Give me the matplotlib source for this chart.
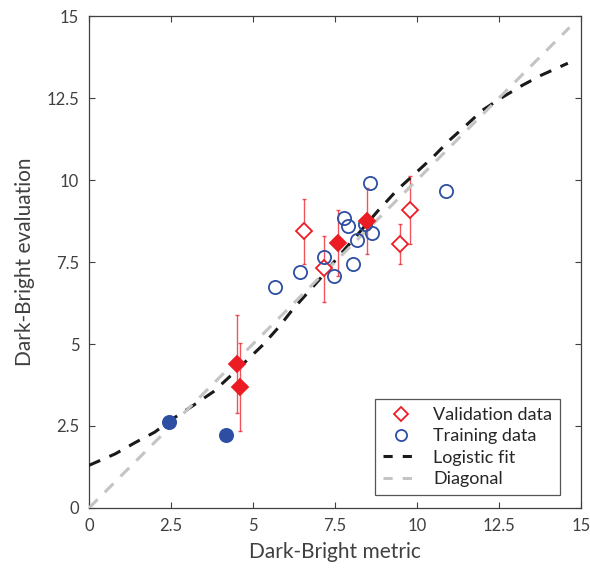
import numpy as np
import matplotlib
matplotlib.use('Agg')
import matplotlib.pyplot as plt
from matplotlib.lines import Line2D

plt.rcParams['font.family'] = ['Lato', 'DejaVu Sans']

# training data (open and filled circles)
train_x = [5.68, 6.42, 7.16, 7.47, 7.78, 7.90, 8.17, 8.04, 8.43, 8.64, 8.56, 10.88]
train_y = [6.73, 7.20, 7.65, 7.07, 8.83, 8.61, 8.17, 7.43, 8.65, 8.39, 9.92, 9.66]
train_fx = [2.43, 4.18]
train_fy = [2.63, 2.23]

# validation data (open and filled diamonds) with error bar ends
val_x = [6.55, 7.17, 9.47, 9.79]
val_y = [8.45, 7.31, 8.04, 9.09]
val_lo = [7.45, 6.27, 7.43, 8.05]
val_hi = [9.41, 8.28, 8.65, 10.12]
val_fx = [4.52, 4.59, 7.60, 8.48]
val_fy = [4.38, 3.68, 8.09, 8.75]
val_flo = [2.89, 2.36, 7.08, 7.74]
val_fhi = [5.88, 5.04, 9.08, 9.76]

# logistic fit
fit_x = [0, 0.8, 1.4, 2.0, 2.6, 3.2, 3.8, 4.5, 5.3, 5.8, 6.2, 6.7, 7.1, 7.6,
         8.2, 8.8, 9.4, 10.0, 10.5, 11.0, 11.5, 12.0, 12.6, 13.2, 13.8, 14.6]
fit_y = [1.30, 1.65, 1.99, 2.31, 2.75, 3.14, 3.55, 4.20, 4.97, 5.53, 6.04, 6.60, 7.05, 7.66,
         8.35, 9.05, 9.70, 10.25, 10.71, 11.22, 11.67, 12.13, 12.52, 12.88, 13.20, 13.56]
diag = [0, 14.65]

ticks = [0, 2.5, 5, 7.5, 10, 12.5, 15]
tick_labels = ['0', '2.5', '5', '7.5', '10', '12.5', '15']

red = '#ec1c24'
blue = '#2e4ea3'
dark = '#404040'

fig = plt.figure(figsize=(5.9, 5.72), dpi=100)
ax = fig.add_axes([0.1508, 0.1119, 0.8339, 0.8601])

# error bars
ylo = np.array(val_y) - np.array(val_lo)
yhi = np.array(val_hi) - np.array(val_y)
ax.errorbar(val_x, val_y, yerr=[ylo, yhi], fmt='none', ecolor=red, elinewidth=1,
            capsize=1.5, alpha=0.75, zorder=2)
ylo = np.array(val_fy) - np.array(val_flo)
yhi = np.array(val_fhi) - np.array(val_fy)
ax.errorbar(val_fx, val_fy, yerr=[ylo, yhi], fmt='none', ecolor=red, elinewidth=1,
            capsize=1.5, alpha=0.75, zorder=2)

ax.plot(val_x, val_y, 'D', mfc='white', mec=red, mew=1.3, ms=8.5, ls='none', zorder=4)
ax.plot(val_fx, val_fy, 'D', mfc=red, mec=red, mew=1.3, ms=8.5, ls='none', zorder=5)
ax.plot(train_x, train_y, 'o', mfc='none', mec=blue, mew=1.3, ms=9.5, ls='none', zorder=4)
ax.plot(train_fx, train_fy, 'o', mfc=blue, mec=blue, mew=1.3, ms=9.5, ls='none', zorder=4)

ax.plot(fit_x, fit_y, color='#1a1a1a', lw=2.2, dashes=(4, 3.3), zorder=3)
ax.plot(diag, diag, color='#c4c4c4', lw=2.2, dashes=(4, 3.3), zorder=3)

ax.set_xlim(0, 15)
ax.set_ylim(0, 15)
ax.set_xticks(ticks)
ax.set_xticklabels(tick_labels)
ax.set_yticks(ticks)
ax.set_yticklabels(tick_labels)
ax.tick_params(direction='in', top=True, right=True, length=4, width=0.8,
               colors=dark, labelsize=12, pad=7)
for s in ax.spines.values():
    s.set_color(dark)
    s.set_linewidth(0.9)

ax.set_xlabel('Dark-Bright metric', fontsize=15, color=dark, labelpad=6)
ax.set_ylabel('Dark-Bright evaluation', fontsize=15, color=dark, labelpad=8)

handles = [
    Line2D([], [], marker='D', mfc='white', mec=red, mew=1.3, ms=7.5, ls='none'),
    Line2D([], [], marker='o', mfc='none', mec=blue, mew=1.3, ms=8, ls='none'),
    Line2D([], [], color='#1a1a1a', lw=2.2, dashes=(3, 3.3)),
    Line2D([], [], color='#c4c4c4', lw=2.2, dashes=(3, 3.3)),
]
labels = ['Validation data', 'Training data', 'Logistic fit', 'Diagonal']
leg = ax.legend(handles, labels, loc='lower right', bbox_to_anchor=(0.958, 0.026),
                fontsize=13, frameon=True, fancybox=False, framealpha=1,
                edgecolor='#555555', handlelength=2.0, handletextpad=0.8,
                borderpad=0.45, labelspacing=0.3, borderaxespad=0)
leg.get_frame().set_linewidth(0.9)
for t in leg.get_texts():
    t.set_color('#262626')

fig.savefig('out.png', dpi=100)
